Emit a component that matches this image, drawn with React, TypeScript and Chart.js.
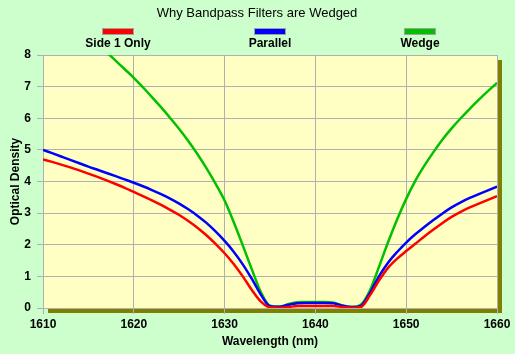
import React, { useEffect, useRef } from "react";
import { Chart, registerables } from "chart.js";

Chart.register(...registerables);

const wavelengths = [
  1610, 1611, 1612, 1613, 1614, 1615, 1616, 1617, 1618, 1619,
  1620, 1621, 1622, 1623, 1624, 1625, 1626, 1627, 1628, 1629,
  1630, 1631, 1632, 1633, 1634, 1635, 1636, 1637, 1638, 1639,
  1640, 1641, 1642, 1643, 1644, 1645, 1646, 1647, 1648, 1649,
  1650, 1651, 1652, 1653, 1654, 1655, 1656, 1657, 1658, 1659, 1660,
];

const side1Only = [
  4.7, 4.62, 4.535, 4.445, 4.35, 4.25, 4.145, 4.035, 3.92, 3.8,
  3.67, 3.54, 3.405, 3.26, 3.105, 2.94, 2.75, 2.54, 2.3, 2.03,
  1.73, 1.39, 1.0, 0.57, 0.2, 0.02, 0.01, 0.03, 0.06, 0.06,
  0.06, 0.06, 0.06, 0.03, 0.01, 0.03, 0.4, 0.87, 1.27, 1.56,
  1.8, 2.03, 2.26, 2.48, 2.69, 2.88, 3.04, 3.18, 3.3, 3.42, 3.54,
];

const parallel = [
  5.0, 4.895, 4.79, 4.685, 4.578, 4.47, 4.37, 4.27, 4.17, 4.065,
  3.96, 3.85, 3.73, 3.6, 3.46, 3.3, 3.12, 2.92, 2.69, 2.42,
  2.12, 1.78, 1.38, 0.92, 0.42, 0.06, 0.04, 0.1, 0.15, 0.16,
  0.16, 0.16, 0.15, 0.07, 0.03, 0.07, 0.47, 1.0, 1.43, 1.77,
  2.07, 2.33, 2.56, 2.78, 2.99, 3.18, 3.34, 3.48, 3.6, 3.72, 3.84,
];

const wedge = [
  9.98, 9.71, 9.44, 9.17, 8.9, 8.63, 8.36, 8.09, 7.82, 7.55,
  7.28, 6.98, 6.67, 6.35, 6.01, 5.66, 5.28, 4.87, 4.42, 3.93,
  3.4, 2.72, 1.98, 1.22, 0.5, 0.07, 0.04, 0.12, 0.18, 0.19,
  0.19, 0.19, 0.17, 0.08, 0.03, 0.1, 0.55, 1.3, 2.08, 2.8,
  3.45, 4.02, 4.5, 4.93, 5.33, 5.68, 6.0, 6.3, 6.59, 6.86, 7.12,
];

const seriesNames = ["Side 1 Only", "Parallel", "Wedge"];
const seriesColors = ["#ff0000", "#0000ff", "#00c000"];
const legendCenters = [118, 270, 420];

const titleText = "Why Bandpass Filters are Wedged";
const xTitle = "Wavelength (nm)";
const yTitle = "Optical Density";

const FONT = "'Liberation Sans', Arial, sans-serif";

const decorPlugin = {
  id: "decor",
  beforeDraw(chart: any) {
    const { ctx, chartArea } = chart;
    const { left, top, right, bottom } = chartArea;
    ctx.save();
    ctx.fillStyle = "#808000";
    ctx.fillRect(left + 5, top + 5, right - left, bottom - top);
    ctx.fillStyle = "#ffffc4";
    ctx.fillRect(left, top, right - left, bottom - top);
    ctx.restore();
  },
  afterDraw(chart: any) {
    const { ctx } = chart;
    ctx.save();
    ctx.fillStyle = "#000";
    ctx.font = `13px ${FONT}`;
    ctx.textAlign = "center";
    ctx.textBaseline = "middle";
    ctx.fillText(titleText, 257, 13);
    seriesNames.forEach((name, i) => {
      const cx = legendCenters[i];
      ctx.fillStyle = "#a0a0a0";
      ctx.fillRect(cx - 16, 28, 32, 7);
      ctx.fillStyle = seriesColors[i];
      ctx.fillRect(cx - 15, 29, 30, 5);
      ctx.fillStyle = "#000";
      ctx.font = `bold 12px ${FONT}`;
      ctx.fillText(name, cx, 44);
    });
    ctx.restore();
  },
};

export default function App() {
  const ref = useRef<HTMLCanvasElement>(null);
  useEffect(() => {
    document.body.style.margin = "0";
    const mk = (i: number, data: number[]) => ({
      label: seriesNames[i],
      data: wavelengths.map((x, k) => ({ x, y: data[k] })),
      borderColor: seriesColors[i],
      backgroundColor: seriesColors[i],
      borderWidth: 2.5,
      pointRadius: 0,
      cubicInterpolationMode: "monotone",
    });
    const chart = new Chart(ref.current!, {
      type: "line",
      data: {
        datasets: [mk(0, side1Only), mk(1, parallel), mk(2, wedge)],
      },
      options: {
        animation: false,
        responsive: false,
        maintainAspectRatio: false,
        layout: { padding: { top: 55, right: 18, left: 0, bottom: 0 } },
        plugins: {
          legend: { display: false },
          title: { display: false },
          tooltip: { enabled: false },
        },
        scales: {
          x: {
            type: "linear",
            min: 1610,
            max: 1660,
            ticks: {
              stepSize: 10,
              color: "#000",
              font: { family: FONT, size: 12, weight: "bold" },
              padding: 3,
              maxRotation: 0,
              callback: (v: any) => String(v),
            },
            grid: { color: "#b0b0b0", tickLength: 6, lineWidth: 1 },
            border: { color: "#b0b0b0" },
            title: {
              display: true,
              text: xTitle,
              color: "#000",
              font: { family: FONT, size: 12, weight: "bold" },
              padding: { top: 2, bottom: 5 },
            },
            afterFit: (s: any) => {
              s.height = 46;
            },
          },
          y: {
            min: 0,
            max: 8,
            ticks: {
              stepSize: 1,
              color: "#000",
              font: { family: FONT, size: 12, weight: "bold" },
              padding: 6,
              callback: (v: any) => String(v),
            },
            grid: { color: "#b0b0b0", tickLength: 6, lineWidth: 1 },
            border: { color: "#b0b0b0" },
            title: {
              display: true,
              text: yTitle,
              color: "#000",
              font: { family: FONT, size: 12, weight: "bold" },
              padding: { top: 8, bottom: 0 },
            },
            afterFit: (s: any) => {
              s.width = 43;
            },
          },
        },
      } as any,
      plugins: [decorPlugin],
    });
    return () => chart.destroy();
  }, []);
  return (
    <div style={{ width: 515, height: 354, background: "#ccffcc" }}>
      <canvas ref={ref} width={515} height={354} style={{ display: "block" }} />
    </div>
  );
}
